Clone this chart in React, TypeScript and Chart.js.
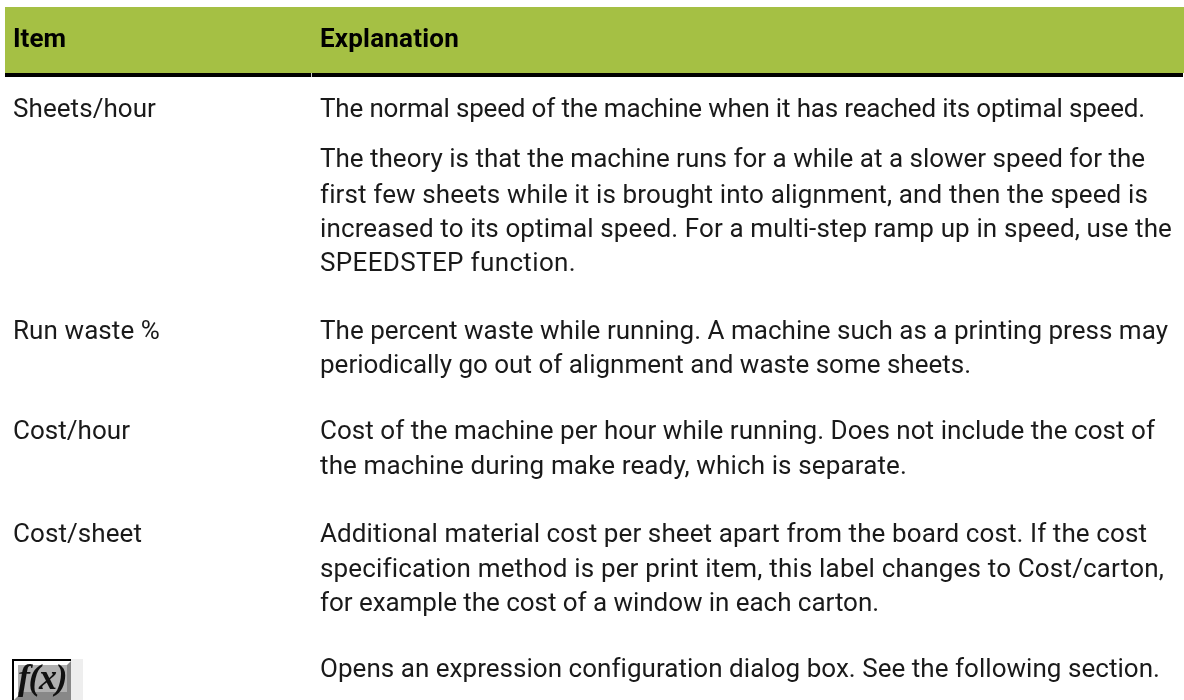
import React, { useEffect, useRef } from "react";
import { Chart, registerables } from "chart.js";

Chart.register(...registerables);

const headers = ["Item", "Explanation"];
const items = ["Sheets/hour", "Run waste %", "Cost/hour", "Cost/sheet"];
const sheetsLines = [
  "The normal speed of the machine when it has reached its optimal speed.",
  "The theory is that the machine runs for a while at a slower speed for the",
  "first few sheets while it is brought into alignment, and then the speed is",
  "increased to its optimal speed. For a multi-step ramp up in speed, use the",
  "SPEEDSTEP function.",
];
const wasteLines = [
  "The percent waste while running. A machine such as a printing press may",
  "periodically go out of alignment and waste some sheets.",
];
const costHourLines = [
  "Cost of the machine per hour while running. Does not include the cost of",
  "the machine during make ready, which is separate.",
];
const costSheetLines = [
  "Additional material cost per sheet apart from the board cost. If the cost",
  "specification method is per print item, this label changes to Cost/carton,",
  "for example the cost of a window in each carton.",
];
const fxLines = ["Opens an expression configuration dialog box. See the following section."];
const fxLabel = "f(x)";

const FONT = '"Roboto", sans-serif';
const TEXT = "#1a1a1a";

const tablePlugin = {
  id: "table",
  beforeDraw(chart: any) {
    const c = chart.ctx as CanvasRenderingContext2D;
    c.save();
    c.fillStyle = "#ffffff";
    c.fillRect(0, 0, 1184, 700);
    c.fillStyle = "#a5c044";
    c.fillRect(5, 7, 1179, 66);
    c.fillStyle = "#000000";
    c.fillRect(5, 73, 1178, 4);
    c.fillStyle = "#c8c8c8";
    c.fillRect(311, 73, 1, 4);
    c.textBaseline = "alphabetic";

    // Each line is fitted to the width measured in the reference.
    const fit = (t: string, x: number, y: number, right: number) => {
      c.letterSpacing = "0px";
      const w = c.measureText(t).width;
      c.letterSpacing = `${(right - x - w) / t.length}px`;
      c.fillText(t, x, y);
      c.letterSpacing = "0px";
    };

    c.font = `700 26px ${FONT}`;
    c.fillStyle = "#000000";
    fit(headers[0], 13, 47, 66);
    fit(headers[1], 320, 47, 459);

    c.font = `400 26px ${FONT}`;
    c.fillStyle = TEXT;
    fit(items[0], 13, 117, 156);
    fit(items[1], 13, 339, 160);
    fit(items[2], 13, 439, 130);
    fit(items[3], 13, 542, 142);

    const sheetsY = [117, 167, 203, 237, 271];
    const sheetsR = [1145, 1145, 1147, 1172, 576];
    sheetsLines.forEach((t, i) => fit(t, 320, sheetsY[i], sheetsR[i]));
    const wasteR = [1168, 971];
    wasteLines.forEach((t, i) => fit(t, 320, 339 + i * 34, wasteR[i]));
    const hourR = [1155, 907];
    costHourLines.forEach((t, i) => fit(t, 320, 439 + i * 35, hourR[i]));
    const sheetR = [1147, 1163, 879];
    costSheetLines.forEach((t, i) => fit(t, 320, 542 + i * 34.5, sheetR[i]));
    fit(fxLines[0], 320, 677, 1159);

    // f(x) button
    c.fillStyle = "#eeeeee";
    c.fillRect(71, 659, 12, 41);
    c.fillStyle = "#888888";
    c.fillRect(12, 659, 59, 41);
    c.fillStyle = "#ffffff";
    c.beginPath();
    c.moveTo(14, 661);
    c.lineTo(71, 661);
    c.lineTo(67, 665);
    c.lineTo(18, 665);
    c.lineTo(18, 696);
    c.lineTo(14, 700);
    c.closePath();
    c.fill();
    c.fillStyle = "#b0b0b0";
    c.fillRect(18, 665, 49, 27);
    c.fillStyle = "#000000";
    c.fillRect(12, 659, 59, 2);
    c.fillRect(12, 659, 2, 41);
    c.fillStyle = "#111111";
    c.font = 'italic 700 36px "Liberation Serif", serif';
    fit(fxLabel, 18, 689, 66);
    c.restore();
  },
};

export default function App() {
  const ref = useRef<HTMLCanvasElement>(null);
  useEffect(() => {
    document.body.style.margin = "0";
    const chart = new Chart(ref.current!, {
      type: "scatter",
      data: { datasets: [{ data: [] }] },
      options: {
        animation: false,
        responsive: false,
        plugins: { legend: { display: false }, tooltip: { enabled: false } },
        scales: { x: { display: false }, y: { display: false } },
      },
      plugins: [tablePlugin],
    });
    return () => chart.destroy();
  }, []);
  return <canvas ref={ref} width={1184} height={700} style={{ display: "block" }} />;
}
